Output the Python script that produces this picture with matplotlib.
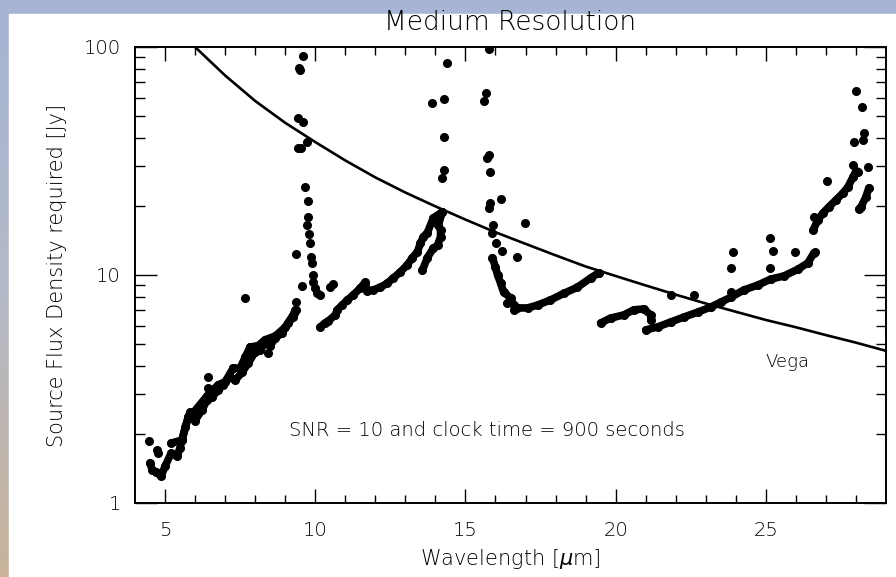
import matplotlib
matplotlib.use("Agg")
import matplotlib.pyplot as plt
import numpy as np
from matplotlib.patches import Rectangle
from matplotlib.colors import LinearSegmentedColormap

plt.rcParams['font.family'] = ['DejaVu Sans']
plt.rcParams['font.weight'] = 'light'
plt.rcParams['axes.labelweight'] = 'light'
plt.rcParams['mathtext.fontset'] = 'dejavusans'

# ---------------- data ----------------
vega_wl = [6.0, 7, 8, 9, 10, 11, 12, 13, 14, 15, 16, 17, 18, 19, 20, 21, 22, 23, 24, 25, 26, 27, 28, 29]
vega_flux = [100, 75, 58, 46.5, 38.3, 31.8, 26.8, 23.0, 20.0, 17.5, 15.4, 13.7, 12.2, 10.9, 9.9,
             9.0, 8.2, 7.5, 6.9, 6.35, 5.9, 5.45, 5.05, 4.65]

# dense (continuous) runs of points
segA_wl = [4.5, 4.57, 4.7, 4.87, 5.0, 5.2, 5.4, 5.5, 5.67, 5.83, 6.0, 6.23, 6.4, 6.57, 6.77, 6.93,
           7.17, 7.33, 7.57, 7.77, 8.0, 8.17, 8.33, 8.5, 8.67, 8.9, 9.1, 9.27, 9.37]
segA_flux = [1.50, 1.40, 1.37, 1.31, 1.45, 1.65, 1.60, 1.75, 2.15, 2.50, 2.30, 2.56, 2.83, 2.92, 3.13, 3.29,
             3.57, 3.45, 3.75, 4.11, 4.60, 4.69, 5.03, 4.90, 5.29, 5.57, 6.16, 6.54, 7.03]

segA2_wl = [5.2, 5.57, 5.77, 5.93, 6.4, 6.77, 7.0, 7.27, 7.5, 7.67, 7.83, 8.1, 8.33, 8.67, 9.0, 9.3]
segA2_flux = [1.83, 1.89, 2.38, 2.48, 2.95, 3.3, 3.4, 3.91, 3.9, 4.37, 4.83, 4.9, 5.2, 5.4, 5.9, 6.8]

segB_wl = [10.17, 10.33, 10.43, 10.67, 10.73, 10.9, 11.07, 11.27, 11.5, 11.67, 11.73, 11.93, 12.17,
           12.4, 12.6, 12.83, 13.07, 13.23, 13.4, 13.5, 13.6, 13.73, 13.93, 14.23]
segB_flux = [5.92, 6.16, 6.28, 6.68, 7.03, 7.38, 7.77, 8.18, 8.77, 9.3, 8.5, 8.6, 8.84,
             9.2, 9.71, 10.3, 11.1, 11.9, 12.6, 13.8, 14.7, 15.3, 17.8, 18.9]

segB2_wl = [13.57, 13.73, 13.93, 14.07, 14.17, 14.17, 14.1, 14.23]
segB2_flux = [10.5, 11.9, 13.1, 13.5, 14.7, 15.7, 16.6, 18.9]

segC_wl = [15.9, 16.0, 16.07, 16.17, 16.27, 16.5, 16.6, 16.73, 17.07, 17.4, 17.83, 18.27, 18.73, 19.17, 19.43]
segC_flux = [11.9, 10.8, 10.0, 9.2, 8.42, 7.93, 7.38, 7.17, 7.17, 7.38, 7.77, 8.3, 8.84, 9.71, 10.2]

segD_wl = [19.5, 19.83, 20.27, 20.6, 20.93, 21.17, 21.17]
segD_flux = [6.16, 6.47, 6.68, 7.03, 7.1, 6.68, 6.34]

segE_wl = [21.0, 21.4, 21.83, 22.27, 22.73, 23.17, 23.5, 23.83, 24.27, 24.73, 25.17, 25.6, 26.07, 26.4, 26.6]
segE_flux = [5.74, 5.92, 6.22, 6.54, 6.87, 7.24, 7.6, 7.98, 8.6, 9.03, 9.6, 9.9, 10.6, 11.3, 12.5]

segF_wl = [26.57, 26.73, 26.9, 27.1, 27.33, 27.57, 27.73, 27.9, 28.0]
segF_flux = [15.7, 17.4, 18.7, 19.9, 21.3, 22.9, 24.3, 26.9, 28.5]

segF2_wl = [28.1, 28.17, 28.33, 28.43]
segF2_flux = [19.5, 19.9, 22.0, 24.1]

# isolated points
pts_wl = [4.47, 4.73, 4.77, 5.57, 5.77, 5.93, 6.43, 6.43, 7.27, 7.67, 7.83, 8.43, 7.67, 9.37, 9.33,
          9.6, 9.47, 9.5, 9.43, 9.6, 9.43, 9.53, 9.73, 9.67, 9.77, 9.77, 9.73, 9.8, 9.83, 9.37,
          9.87, 9.9, 9.93, 9.93, 10.0, 10.07, 10.17, 9.57, 10.5, 10.6,
          14.4, 14.3, 13.9, 14.27, 14.3, 14.23,
          15.77, 15.7, 15.63, 15.77, 15.73, 15.83, 15.83, 15.77, 16.2, 16.97, 15.93, 15.9, 16.03,
          16.23, 16.73, 16.4, 16.6,
          21.83, 22.6, 23.83, 23.9, 25.13, 25.23, 25.13, 25.97, 26.63, 23.83,
          28.0, 28.2, 28.27, 27.93, 28.23, 27.9, 28.4, 28.07, 27.03, 26.6]
pts_flux = [1.87, 1.71, 1.66, 1.89, 2.38, 2.48, 3.57, 3.20, 3.91, 4.37, 4.83, 4.54, 7.93, 7.6, 7.03,
            91.3, 80.9, 79.0, 48.8, 46.9, 36.1, 36.1, 38.3, 24.3, 21.1, 17.9, 16.6, 15.1, 13.8, 12.4,
            12.0, 11.3, 10.0, 9.3, 8.77, 8.3, 8.18, 8.93, 8.84, 9.1,
            85.1, 59.1, 56.8, 40.3, 28.9, 26.6,
            98.0, 62.9, 58.0, 33.6, 32.6, 28.3, 20.7, 19.6, 21.5, 16.9, 16.6, 15.3, 13.8,
            12.7, 12.0, 7.5, 7.0,
            8.18, 8.18, 10.7, 12.6, 14.5, 12.7, 10.7, 12.6, 12.6, 8.42,
            64.1, 54.6, 42.0, 38.3, 39.0, 30.4, 29.8, 28.3, 25.8, 18.0]

x_major = [5, 10, 15, 20, 25]
y_major = [1, 10, 100]
y_major_labels = ['1', '10', '100']

# ---------------- figure ----------------
W, H = 896, 577
fig = plt.figure(figsize=(W / 100, H / 100), dpi=100)

bg = fig.add_axes([0, 0, 1, 1], zorder=-10)
cmap = LinearSegmentedColormap.from_list('bgc', ['#a6b5d4', '#b4bac8', '#c9b39a'])
grad = np.linspace(0, 1, 256).reshape(-1, 1)
bg.imshow(grad, aspect='auto', cmap=cmap, extent=[0, 1, 0, 1], origin='upper')
bg.add_patch(Rectangle((9 / W, 0), 1, (H - 14) / H, color='white', transform=bg.transAxes))
bg.set_xlim(0, 1)
bg.set_ylim(0, 1)
bg.set_axis_off()

ax = fig.add_axes([135 / W, 74 / H, 751 / W, 456 / H])
ax.set_yscale('log')
ax.set_xlim(4, 29)
ax.set_ylim(1, 100)

ax.plot(vega_wl, vega_flux, color='black', lw=1.9, zorder=3)

seg_kw = dict(color='black', lw=5.5, marker='o', ms=5.5, solid_capstyle='round',
              solid_joinstyle='round', zorder=4)
for sx, sy in [(segA_wl, segA_flux), (segA2_wl, segA2_flux), (segB_wl, segB_flux),
               (segB2_wl, segB2_flux), (segC_wl, segC_flux), (segD_wl, segD_flux),
               (segE_wl, segE_flux), (segF_wl, segF_flux), (segF2_wl, segF2_flux)]:
    ax.plot(sx, sy, **seg_kw)

ax.plot(pts_wl, pts_flux, 'o', color='black', ms=5.5, zorder=5)

ax.set_xticks(x_major)
ax.set_xticks([v for v in range(5, 29) if v not in x_major], minor=True)
ax.set_yticks(y_major)
ax.set_yticklabels(y_major_labels)
ax.set_yticks([v * d for d in (1, 10) for v in range(2, 10)], minor=True)
ax.yaxis.set_minor_formatter(plt.NullFormatter())

ax.tick_params(which='both', direction='in', top=True, right=True, width=1.0, colors='black',
               labelsize=14)
ax.tick_params(axis='x', which='major', length=10, pad=13)
ax.tick_params(axis='x', which='minor', length=6)
ax.tick_params(axis='y', which='major', length=16, pad=10)
ax.tick_params(axis='y', which='minor', length=7)
for s in ax.spines.values():
    s.set_linewidth(1.4)

ax.set_xlabel('Wavelength [$\\mu$m]', fontsize=15, labelpad=5, fontweight='light')
ax.set_ylabel('Source Flux Density required [Jy]', fontsize=15, labelpad=12, fontweight='light')

ax.text(15.7, 2.07, 'SNR = 10 and clock time = 900 seconds', ha='center', va='center', fontsize=14)
ax.text(25.73, 4.15, 'Vega', ha='center', va='center', fontsize=13)

fig.text(510 / W, 1 - 23 / H, 'Medium Resolution', ha='center', va='center', fontsize=19)

fig.savefig('out.png', dpi=100)
